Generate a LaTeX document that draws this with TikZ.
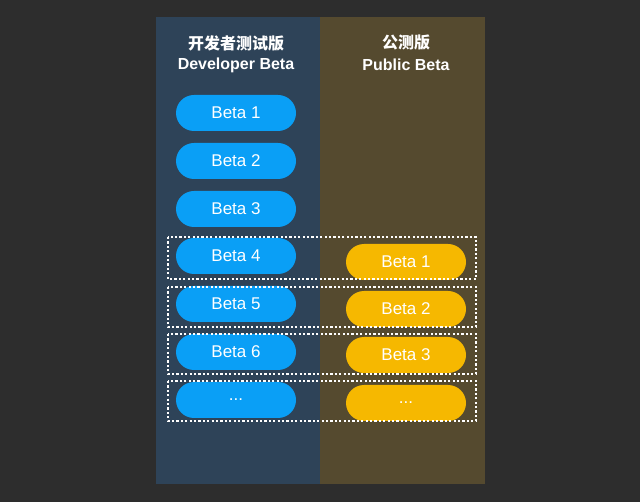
\documentclass[tikz,border=0pt]{standalone}
\usepackage{fontspec}
\usetikzlibrary{shapes.misc}
\setmainfont{Liberation Sans}
\newfontfamily\cjk{Noto Sans CJK SC}
\definecolor{bg}{HTML}{2D2D2D}
\definecolor{lcol}{HTML}{2E4358}
\definecolor{rcol}{HTML}{554A2F}
\definecolor{pblue}{HTML}{0A9FF6}
\definecolor{pyel}{HTML}{F6B800}
\begin{document}
\begin{tikzpicture}[x=1pt,y=-1pt,
 pill/.style={rounded rectangle,minimum width=120pt,minimum height=36pt,text=white,font=\fontsize{17}{20}\selectfont,inner sep=0pt},
 bl/.style={pill,fill=pblue},
 yl/.style={pill,fill=pyel},
 grp/.style={draw=white,line width=2.2pt,dash pattern=on 2.2pt off 2.2pt},
 hd/.style={text=white,font=\bfseries\fontsize{16}{19}\selectfont,align=center}]
\fill[bg] (0,0) rectangle (640,502);
\fill[lcol] (156,17) rectangle (320,484);
\fill[rcol] (320,17) rectangle (485,484);
\node[hd] (h1) at (236,43) {\cjk 开发者测试版};
\node[hd] (h2) at (236,65) {Developer Beta};
\node[hd] (h3) at (406,43) {\cjk 公测版};
\node[hd] (h4) at (406,65) {Public Beta};
\foreach \i/\y in {1/113,2/161,3/209,4/256,5/304,6/352}
  \node[bl] (d\i) at (236,\y) {Beta \i};
\node[bl] (d7) at (236,400) {...};
\foreach \i/\y in {1/262,2/309,3/355}
  \node[yl] (p\i) at (406,\y) {Beta \i};
\node[yl] (p4) at (406,403) {...};
\foreach \a/\b in {237/279,287/327,334/374,381/421}
  \draw[grp] (168,\a) rectangle (476,\b);
\end{tikzpicture}
\end{document}
